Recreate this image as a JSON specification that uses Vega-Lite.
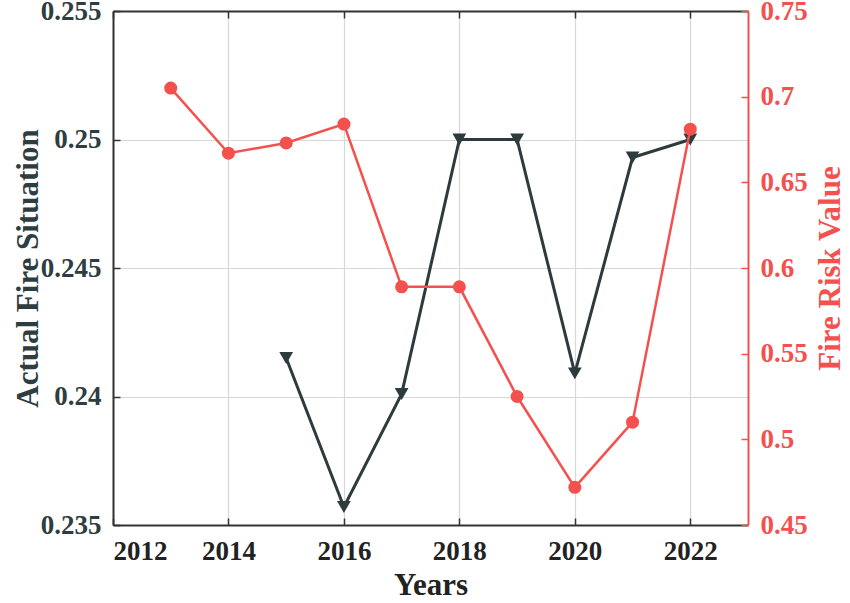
{
  "$schema": "https://vega.github.io/schema/vega-lite/v6.json",
  "width": 635,
  "height": 514,
  "autosize": {"type": "none"},
  "padding": {"left": 113, "top": 11, "right": 102, "bottom": 78},
  "background": "white",
  "config": {
    "view": {"stroke": null},
    "font": "Liberation Serif",
    "axis": {
      "labelFont": "Liberation Serif",
      "titleFont": "Liberation Serif",
      "labelFontWeight": "bold",
      "titleFontWeight": "bold",
      "labelFontSize": 27,
      "titleFontSize": 31,
      "tickSize": -7,
      "tickWidth": 1.5,
      "domainWidth": 2,
      "gridColor": "#d8d8d8",
      "gridWidth": 1.2
    }
  },
  "data": {
    "values": [
      {"year": 2013, "actual": null, "risk": 0.705},
      {"year": 2014, "actual": null, "risk": 0.667},
      {"year": 2015, "actual": 0.2415, "risk": 0.673},
      {"year": 2016, "actual": 0.2357, "risk": 0.684},
      {"year": 2017, "actual": 0.2401, "risk": 0.589},
      {"year": 2018, "actual": 0.25, "risk": 0.589},
      {"year": 2019, "actual": 0.25, "risk": 0.525},
      {"year": 2020, "actual": 0.2409, "risk": 0.472},
      {"year": 2021, "actual": 0.2493, "risk": 0.51},
      {"year": 2022, "actual": 0.25, "risk": 0.681}
    ]
  },
  "layer": [
    {
      "encoding": {
        "x": {
          "field": "year",
          "type": "quantitative",
          "scale": {"domain": [2012, 2023], "nice": false, "zero": false},
          "axis": {
            "title": "Years",
            "values": [2012, 2014, 2016, 2018, 2020, 2022],
            "format": "d",
            "labelColor": "#222222",
            "titleColor": "#222222",
            "domainColor": "#333333",
            "tickColor": "#333333",
            "labelPadding": 20,
            "titlePadding": 6,
            "grid": true
          }
        },
        "y": {
          "field": "actual",
          "type": "quantitative",
          "scale": {"domain": [0.235, 0.255], "nice": false, "zero": false},
          "axis": {
            "title": "Actual Fire Situation",
            "orient": "left",
            "values": [0.235, 0.24, 0.245, 0.25, 0.255],
            "format": ".3~f",
            "labelColor": "#2e3d3f",
            "titleColor": "#2e3d3f",
            "domainColor": "#333333",
            "tickColor": "#333333",
            "labelPadding": 19,
            "titleX": -85,
            "titleY": 257,
            "titleAlign": "center",
            "titleBaseline": "middle",
            "grid": true
          }
        }
      },
      "layer": [
        {"mark": {"type": "line", "color": "#2e3b3d", "strokeWidth": 3}},
        {"mark": {"type": "point", "shape": "triangle-down", "filled": true, "opacity": 1, "size": 190, "color": "#2e3b3d"}}
      ]
    },
    {
      "encoding": {
        "x": {
          "field": "year",
          "type": "quantitative",
          "axis": {
            "orient": "top",
            "title": null,
            "labels": false,
            "values": [2012, 2014, 2016, 2018, 2020, 2022],
            "domainColor": "#333333",
            "tickColor": "#333333",
            "grid": false
          }
        },
        "y": {
          "field": "risk",
          "type": "quantitative",
          "scale": {"domain": [0.45, 0.75], "nice": false, "zero": false},
          "axis": {
            "title": "Fire Risk Value",
            "orient": "right",
            "titleAngle": 270,
            "titleX": 82,
            "titleY": 257,
            "titleAlign": "center",
            "titleBaseline": "middle",
            "values": [0.45, 0.5, 0.55, 0.6, 0.65, 0.7, 0.75],
            "format": ".2~f",
            "labelColor": "#f4514e",
            "titleColor": "#f4514e",
            "domainColor": "#f4514e",
            "tickColor": "#f4514e",
            "labelPadding": 19,
            "grid": false
          }
        }
      },
      "layer": [
        {"mark": {"type": "line", "color": "#f4514e", "strokeWidth": 2.5}},
        {"mark": {"type": "point", "shape": "circle", "filled": true, "opacity": 1, "size": 170, "color": "#f4514e"}}
      ]
    }
  ],
  "resolve": {
    "scale": {"y": "independent"},
    "axis": {"x": "independent", "y": "independent"}
  }
}
